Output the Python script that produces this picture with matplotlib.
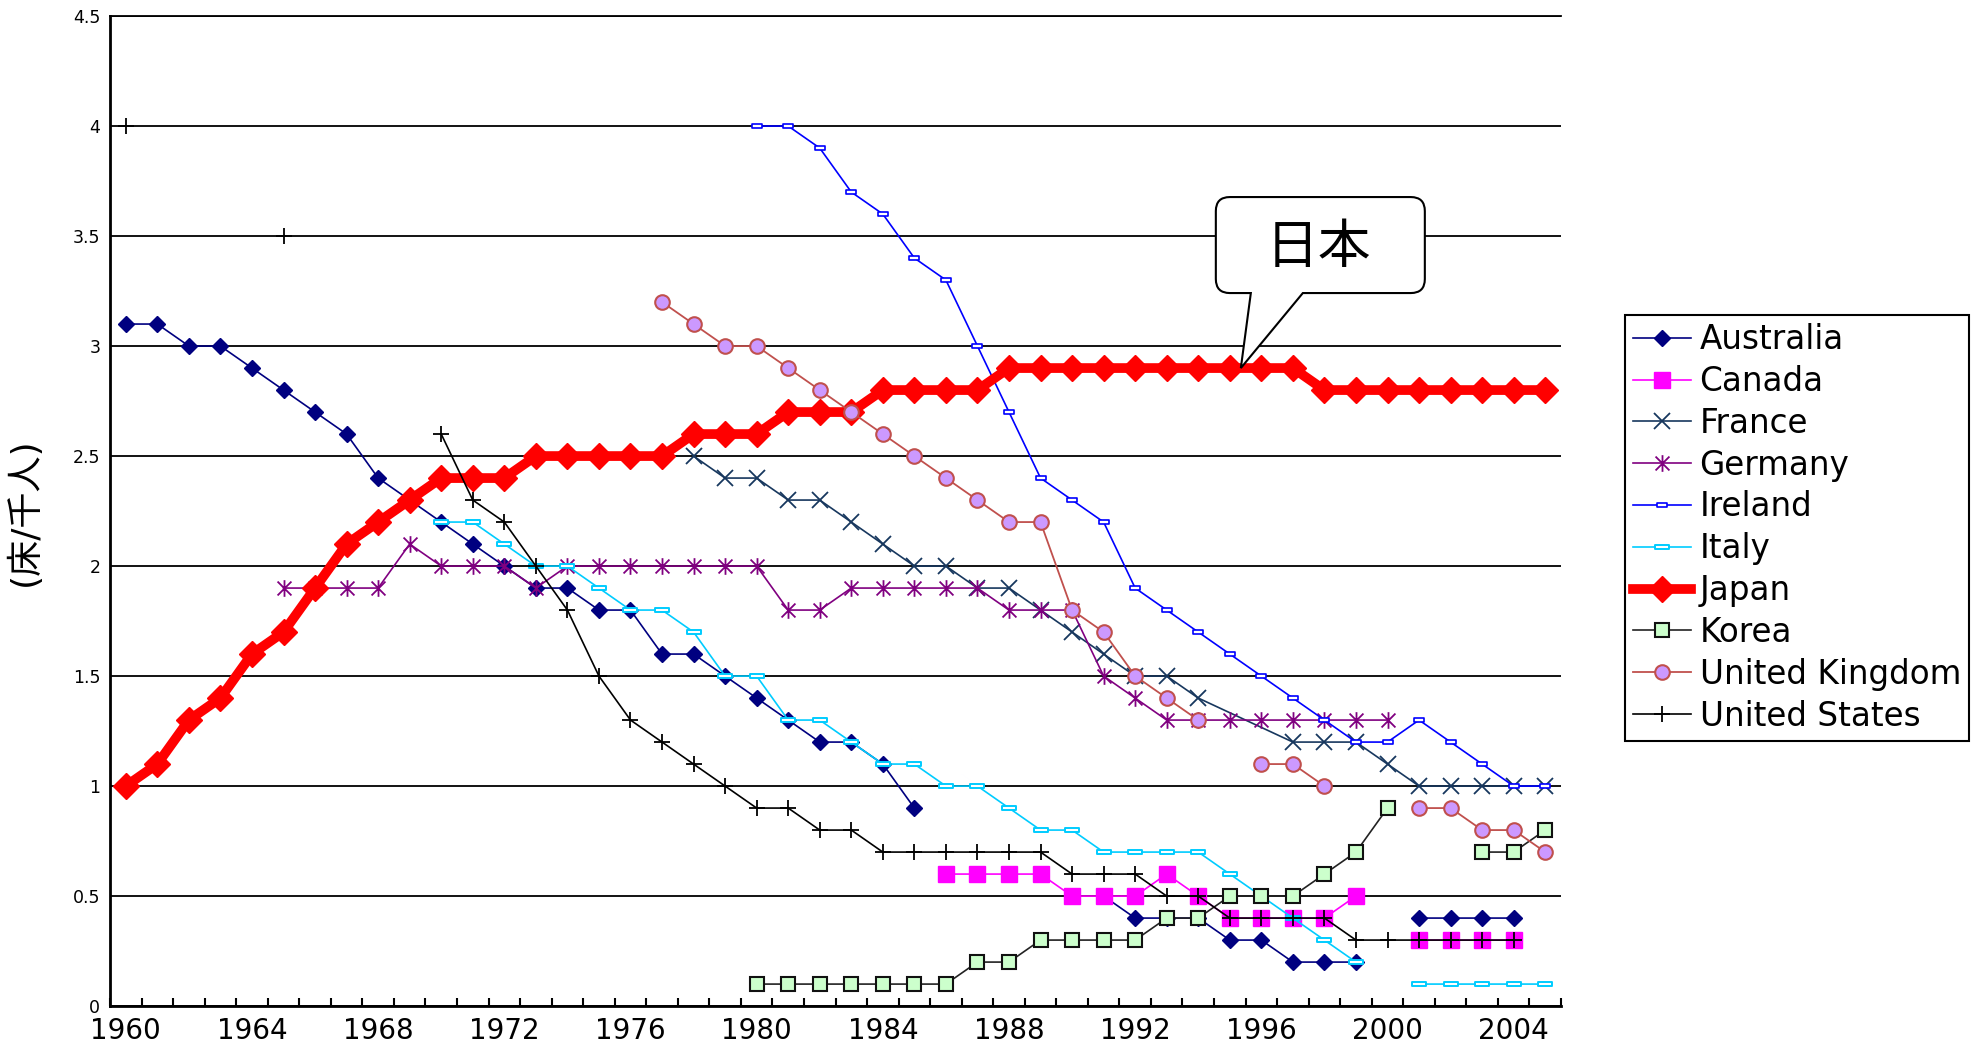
import numpy as np
import matplotlib
matplotlib.use("Agg")
import matplotlib.pyplot as plt
import matplotlib.transforms as mtransforms
from matplotlib.path import Path
from matplotlib.patches import PathPatch

plt.rcParams['font.family'] = ['DejaVu Sans', 'Noto Sans CJK JP']

nan = np.nan
years = np.arange(1960, 2006)

# hospital beds per 1000 people, one value per year 1960-2005 (nan = no data)
australia = [3.1, 3.1, 3.0, 3.0, 2.9, 2.8, 2.7, 2.6, 2.4, 2.3,
             2.2, 2.1, 2.0, 1.9, 1.9, 1.8, 1.8, 1.6, 1.6, 1.5,
             1.4, 1.3, 1.2, 1.2, 1.1, 0.9, nan, nan, nan, nan,
             nan, 0.5, 0.4, 0.4, 0.4, 0.3, 0.3, 0.2, 0.2, 0.2,
             nan, 0.4, 0.4, 0.4, 0.4, nan]
canada = [nan] * 26 + [0.6, 0.6, 0.6, 0.6,
                       0.5, 0.5, 0.5, 0.6, 0.5, 0.4, 0.4, 0.4, 0.4, 0.5,
                       nan, 0.3, 0.3, 0.3, 0.3, nan]
germany = [nan] * 5 + [1.9, 1.9, 1.9, 1.9, 2.1,
                       2.0, 2.0, 2.0, 1.9, 2.0, 2.0, 2.0, 2.0, 2.0, 2.0,
                       2.0, 1.8, 1.8, 1.9, 1.9, 1.9, 1.9, 1.9, 1.8, 1.8,
                       1.8, 1.5, 1.4, 1.3, 1.3, 1.3, 1.3, 1.3, 1.3, 1.3,
                       1.3, nan, nan, nan, nan, nan]
ireland = [nan] * 20 + [4.0, 4.0, 3.9, 3.7, 3.6, 3.4, 3.3, 3.0, 2.7, 2.4,
                        2.3, 2.2, 1.9, 1.8, 1.7, 1.6, 1.5, 1.4, 1.3, 1.2,
                        1.2, 1.3, 1.2, 1.1, 1.0, 1.0]
italy = [nan] * 10 + [2.2, 2.2, 2.1, 2.0, 2.0, 1.9, 1.8, 1.8, 1.7, 1.5,
                      1.5, 1.3, 1.3, 1.2, 1.1, 1.1, 1.0, 1.0, 0.9, 0.8,
                      0.8, 0.7, 0.7, 0.7, 0.7, 0.6, 0.5, 0.4, 0.3, 0.2,
                      nan, 0.1, 0.1, 0.1, 0.1, 0.1]
japan = [1.0, 1.1, 1.3, 1.4, 1.6, 1.7, 1.9, 2.1, 2.2, 2.3,
         2.4, 2.4, 2.4, 2.5, 2.5, 2.5, 2.5, 2.5, 2.6, 2.6,
         2.6, 2.7, 2.7, 2.7, 2.8, 2.8, 2.8, 2.8, 2.9, 2.9,
         2.9, 2.9, 2.9, 2.9, 2.9, 2.9, 2.9, 2.9, 2.8, 2.8,
         2.8, 2.8, 2.8, 2.8, 2.8, 2.8]
korea = [nan] * 20 + [0.1, 0.1, 0.1, 0.1, 0.1, 0.1, 0.1, 0.2, 0.2, 0.3,
                      0.3, 0.3, 0.3, 0.4, 0.4, 0.5, 0.5, 0.5, 0.6, 0.7,
                      0.9, nan, nan, 0.7, 0.7, 0.8]
uk = [nan] * 17 + [3.2, 3.1, 3.0,
                   3.0, 2.9, 2.8, 2.7, 2.6, 2.5, 2.4, 2.3, 2.2, 2.2,
                   1.8, 1.7, 1.5, 1.4, 1.3, nan, 1.1, 1.1, 1.0, nan,
                   nan, 0.9, 0.9, 0.8, 0.8, 0.7]
usa = [4.0, nan, nan, nan, nan, 3.5, nan, nan, nan, nan,
       2.6, 2.3, 2.2, 2.0, 1.8, 1.5, 1.3, 1.2, 1.1, 1.0,
       0.9, 0.9, 0.8, 0.8, 0.7, 0.7, 0.7, 0.7, 0.7, 0.7,
       0.6, 0.6, 0.6, 0.5, 0.5, 0.4, 0.4, 0.4, 0.4, 0.3,
       0.3, 0.3, 0.3, 0.3, 0.3, nan]

# France has no 1995/1996 figures, the line runs straight across
france_years = [1978, 1979, 1980, 1981, 1982, 1983, 1984, 1985, 1986, 1987,
                1988, 1989, 1990, 1991, 1992, 1993, 1994, 1997, 1998, 1999,
                2000, 2001, 2002, 2003, 2004, 2005]
france = [2.5, 2.4, 2.4, 2.3, 2.3, 2.2, 2.1, 2.0, 2.0, 1.9,
          1.9, 1.8, 1.7, 1.6, 1.5, 1.5, 1.4, 1.2, 1.2, 1.2,
          1.1, 1.0, 1.0, 1.0, 1.0, 1.0]

label_years = list(range(1960, 2005, 4))
y_ticks = np.arange(0, 4.51, 0.5)

# custom markers: asterisk (x with a vertical bar) and a short dash box
star = Path([(-1, -1), (1, 1), (-1, 1), (1, -1), (0, -1.2), (0, 1.2)],
            [Path.MOVETO, Path.LINETO] * 3)
dash = Path([(-1, -0.35), (1, -0.35), (1, 0.35), (-1, 0.35), (-1, -0.35)],
            [Path.MOVETO, Path.LINETO, Path.LINETO, Path.LINETO, Path.CLOSEPOLY])

fig = plt.figure(figsize=(19.86, 10.48), dpi=100)
ax = fig.add_axes([0.0554, 0.040, 0.7306, 0.9447])

ax.plot(years, australia, color='#000080', lw=1.2, marker='D', ms=8,
        mfc='#000080', mec='#000080', label='Australia')
ax.plot(years, canada, color='#FF00FF', lw=1.2, marker='s', ms=12,
        mfc='#FF00FF', mec='#FF00FF', label='Canada')
ax.plot(france_years, france, color='#17375E', lw=1.2, marker='x', ms=12,
        mew=1.3, label='France')
ax.plot(years, germany, color='#800080', lw=1.2, marker=star, ms=12,
        mew=1.3, label='Germany')
ax.plot(years, ireland, color='#0000FF', lw=1.2, marker=dash, ms=7,
        mfc='white', mec='#0000FF', mew=1.2, label='Ireland')
ax.plot(years, italy, color='#00CCFF', lw=1.2, marker=dash, ms=10,
        mfc='white', mec='#00CCFF', mew=1.4, label='Italy')
ax.plot(years, japan, color='#FF0000', lw=7, marker='D', ms=13.5,
        mfc='#FF0000', mec='#FF0000', label='Japan')
ax.plot(years, korea, color='#222222', lw=1.2, marker='s', ms=10.5,
        mfc='#CCFFCC', mec='#111111', mew=1.5, label='Korea')
ax.plot(years, uk, color='#C0504D', lw=1.3, marker='o', ms=10.5,
        mfc='#CC99FF', mec='#C0504D', mew=1.5, label='United Kingdom')
ax.plot(years, usa, color='black', lw=1.2, marker='+', ms=12,
        mew=1.3, label='United States')

ax.set_xlim(1959.5, 2005.5)
ax.set_ylim(0, 4.5)
ax.set_yticks(y_ticks)
ax.set_yticklabels([f'{v:g}' for v in y_ticks])
ax.set_xticks(label_years)
ax.set_xticklabels([str(y) for y in label_years])
ax.set_xticks(np.arange(1959.5, 2006, 1), minor=True)

ax.yaxis.grid(True, color='black', lw=1.3)
ax.set_axisbelow(True)
ax.tick_params(axis='y', length=0, pad=7, labelsize=12.5)
ax.tick_params(axis='x', which='major', length=0, pad=8, labelsize=20)
ax.tick_params(axis='x', which='minor', direction='in', length=6, width=1.5)

ax.spines['right'].set_visible(False)
ax.spines['top'].set_linewidth(1.3)
for side in ('left', 'bottom'):
    ax.spines[side].set_linewidth(2)

fig.text(0.012, 0.512, '(床/千人)', rotation=90, ha='center', va='center',
         fontsize=26)

leg = ax.legend(loc='upper left', bbox_to_anchor=(0.818, 0.6994),
                bbox_transform=fig.transFigure, fancybox=False,
                edgecolor='black', framealpha=1, fontsize=23.5,
                handlelength=1.8, handletextpad=0.25, labelspacing=0.27,
                borderpad=0.25, borderaxespad=0)
leg.get_frame().set_linewidth(1.5)

# speech-bubble callout pointing at the Japan line, drawn in inches from its tip
tip = mtransforms.ScaledTranslation(1995.35, 2.9, ax.transData)
trans = fig.dpi_scale_trans + tip
L, R, B, T, r = -0.25, 1.84, 0.75, 1.71, 0.14
verts = [(L + r, B), (0.10, B), (0, 0), (0.62, B), (R - r, B),
         (R, B), (R, B + r), (R, T - r), (R, T), (R - r, T),
         (L + r, T), (L, T), (L, T - r), (L, B + r), (L, B), (L + r, B),
         (L + r, B)]
codes = [Path.MOVETO, Path.LINETO, Path.LINETO, Path.LINETO, Path.LINETO,
         Path.CURVE3, Path.CURVE3, Path.LINETO, Path.CURVE3, Path.CURVE3,
         Path.LINETO, Path.CURVE3, Path.CURVE3, Path.LINETO, Path.CURVE3,
         Path.CURVE3, Path.CLOSEPOLY]
bubble = PathPatch(Path(verts, codes), transform=trans, facecolor='white',
                   edgecolor='black', lw=1.5, zorder=10, clip_on=False)
ax.add_patch(bubble)
ax.text((L + R) / 2 - 0.02, (B + T) / 2 - 0.03, '日本', transform=trans,
        ha='center', va='center', fontsize=38, zorder=11)

fig.savefig('out.png', dpi=100)
